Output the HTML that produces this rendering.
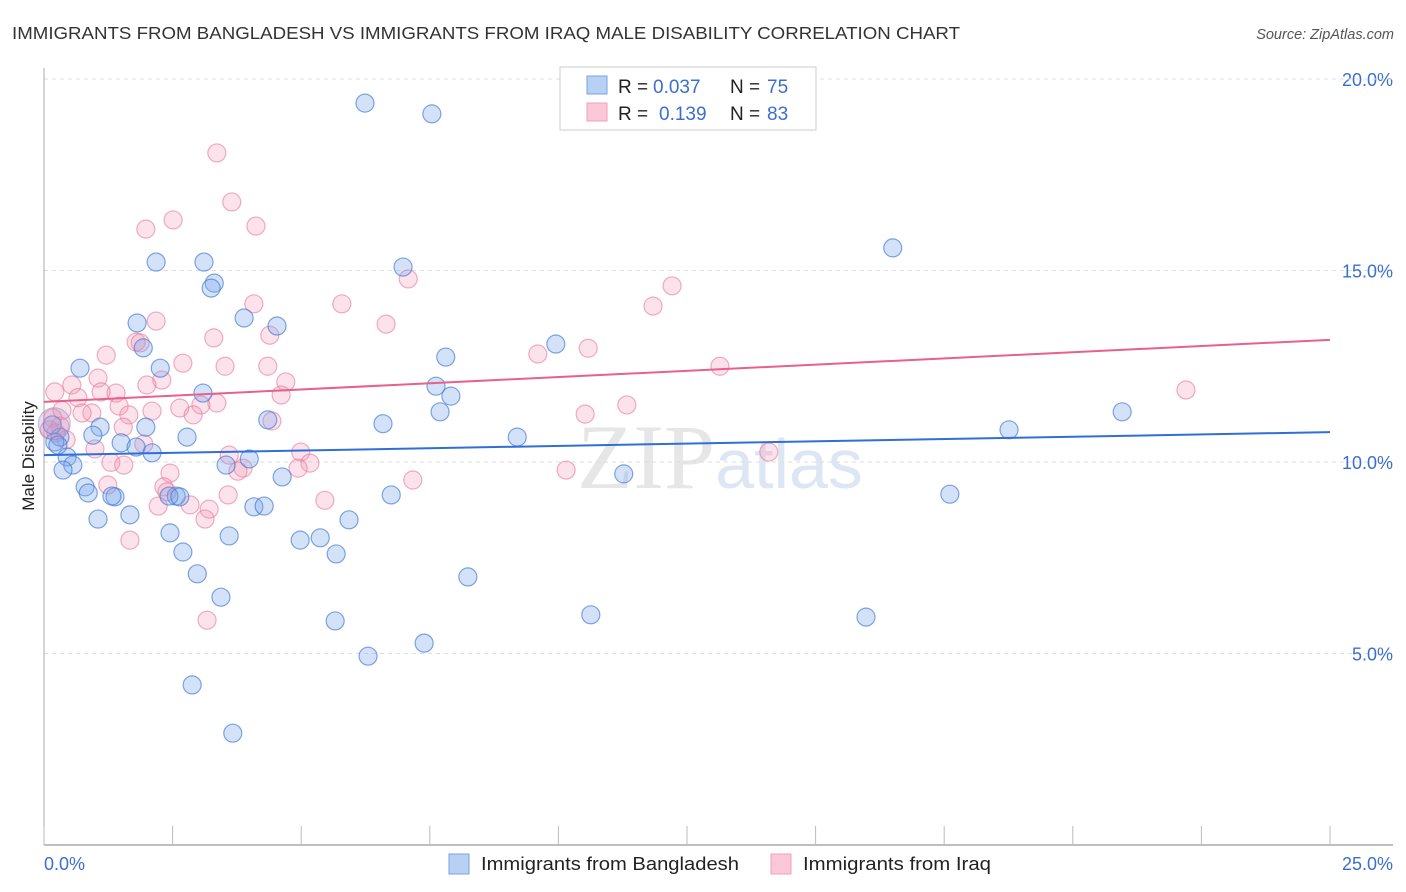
<!DOCTYPE html>
<html><head><meta charset="utf-8"><style>
body{margin:0;background:#fff;font-family:"Liberation Sans",sans-serif;}
svg{display:block}
</style></head><body>
<svg id="c" width="1406" height="892" xmlns="http://www.w3.org/2000/svg">
<text x="12" y="39" font-size="17.5" fill="#333" textLength="948" lengthAdjust="spacingAndGlyphs">IMMIGRANTS FROM BANGLADESH VS IMMIGRANTS FROM IRAQ MALE DISABILITY CORRELATION CHART</text>
<text x="1394" y="39" font-size="14.5" fill="#555" font-style="italic" text-anchor="end">Source: ZipAtlas.com</text>
<text x="720" y="488" font-size="92" fill="#e6e6e6" text-anchor="middle" font-family="Liberation Serif,serif">ZIP<tspan fill="#dde6f4" font-family="Liberation Sans,sans-serif" font-size="70">atlas</tspan></text>
<g id="grid"></g>
<g id="axes"></g>
<g id="pts"></g>
<g id="lines"></g>
<text transform="translate(34,456) rotate(-90)" font-size="17" fill="#222" text-anchor="middle">Male Disability</text>
<g>
<rect x="560" y="67" width="256" height="63" fill="#fff" stroke="#ccc"/>
<rect x="587" y="76" width="20" height="18" fill="#b8d0f4" stroke="#7aa2e0"/>
<rect x="587" y="103" width="20" height="18" fill="#fcc8d8" stroke="#eea0b8"/>
<text y="93" font-size="19" fill="#222"><tspan x="618">R =</tspan><tspan x="653" fill="#3a6fd0">0.037</tspan><tspan x="730">N =</tspan><tspan x="767" fill="#3a6fd0">75</tspan></text>
<text y="120" font-size="19" fill="#222"><tspan x="618">R =</tspan><tspan x="659" fill="#3a6fd0">0.139</tspan><tspan x="730">N =</tspan><tspan x="767" fill="#3a6fd0">83</tspan></text>
</g>
<g>
<rect x="449" y="854" width="20" height="20" fill="#b8d0f4" stroke="#7aa2e0"/>
<text x="481" y="870" font-size="18" fill="#222" textLength="258" lengthAdjust="spacingAndGlyphs">Immigrants from Bangladesh</text>
<rect x="771" y="854" width="20" height="20" fill="#fcc8d8" stroke="#eea0b8"/>
<text x="803" y="870" font-size="18" fill="#222" textLength="188" lengthAdjust="spacingAndGlyphs">Immigrants from Iraq</text>
</g>
</svg>
<script>
const yTicks=[5,10,15,20];
const yTickLabels=["5.0%","10.0%","15.0%","20.0%"];
const xTicks=[0,2.5,5,7.5,10,12.5,15,17.5,20,22.5,25];
const xTickLabels=["0.0%","25.0%"];
const blueLine=[10.18,10.78];
const pinkLine=[11.57,13.19];
const blueX=[6.24,7.54,16.5,2.18,3.11,6.98,3.31,3.25,3.89,1.81,4.53,1.93,9.95,7.81,0.70,2.26,7.62,7.91,3.09,7.70,20.96,4.35,6.59,18.76,1.98,1.09,0.95,2.78,9.20,0.31,0.21,1.50,1.79,2.10,0.45,0.56,3.99,3.54,0.37,4.63,11.27,0.80,0.86,1.38,1.32,2.57,2.43,2.64,6.75,17.61,4.08,4.28,1.67,1.05,5.93,2.45,3.60,4.98,5.37,2.70,5.68,8.24,2.98,3.44,10.63,15.98,5.66,7.39,6.30,2.88,3.67,0.16,0.27];
const blueY=[19.37,19.09,15.59,15.22,15.22,15.09,14.67,14.54,13.76,13.63,13.55,12.98,13.08,12.74,12.45,12.45,11.98,11.72,11.80,11.31,11.31,11.10,11.00,10.84,10.91,10.91,10.70,10.65,10.65,10.65,10.52,10.50,10.39,10.24,10.13,9.92,10.08,9.92,9.79,9.61,9.69,9.35,9.19,9.09,9.11,9.11,9.11,9.09,9.14,9.16,8.83,8.85,8.62,8.51,8.49,8.15,8.07,7.96,8.02,7.65,7.60,7.00,7.08,6.47,6.01,5.95,5.85,5.27,4.93,4.18,2.92,10.97,10.44];
const pinkX=[3.36,3.65,2.51,1.98,4.12,7.08,12.21,11.84,4.08,5.79,2.18,6.65,3.30,4.39,1.79,1.87,10.58,1.21,9.60,2.70,3.52,4.35,13.14,2.29,1.05,4.70,0.54,2.00,0.21,22.20,1.40,1.11,0.66,4.61,3.36,3.05,1.46,2.64,2.10,11.33,0.93,0.74,2.90,1.65,10.52,4.43,0.17,0.31,1.54,0.10,0.43,0.99,1.94,4.99,3.60,14.09,3.87,1.30,1.55,5.17,4.94,3.77,10.15,2.45,7.17,1.24,2.33,2.39,3.58,5.46,2.22,2.84,3.21,3.13,1.67,3.17,0.35,0.23];
const pinkY=[18.07,16.79,16.32,16.08,16.16,14.78,14.60,14.07,14.13,14.13,13.68,13.60,13.24,13.31,13.13,13.11,12.97,12.79,12.82,12.58,12.50,12.50,12.50,12.14,12.19,12.09,12.01,12.01,11.83,11.88,11.80,11.83,11.68,11.75,11.54,11.49,11.46,11.41,11.33,11.49,11.28,11.28,11.23,11.23,11.25,11.07,11.15,10.94,10.91,10.84,10.58,10.34,10.47,10.26,10.18,10.26,9.84,9.99,9.92,9.97,9.84,9.76,9.79,9.71,9.53,9.40,9.35,9.22,9.14,9.00,8.85,8.88,8.77,8.51,7.96,5.87,11.35,10.76];

const NS="http://www.w3.org/2000/svg";
const X0=44,X1=1330,Y0=845,PY=38.3;
const xs=v=>X0+(X1-X0)*v/25;
const ys=v=>Y0-v*PY;
function mk(tag,attrs,parent,txt){const e=document.createElementNS(NS,tag);for(const k in attrs)e.setAttribute(k,attrs[k]);if(txt!==undefined)e.textContent=txt;document.getElementById(parent).appendChild(e);return e;}
yTicks.forEach((t,i)=>{
  const l=mk('line',{x1:44,x2:1393,y1:ys(t),y2:ys(t),stroke:'#ddd','stroke-dasharray':'4,4'},'grid');
  
  
  const tx=mk('text',{x:1393,y:ys(t)+7,'font-size':18,fill:'#3a6fd0','text-anchor':'end'},'grid',yTickLabels[i]);
  
  
});
const topGrid=mk('line',{x1:44,x2:1393,y1:79,y2:79,stroke:'#ddd','stroke-dasharray':'4,4'},'grid');


const ax=mk('line',{x1:44,x2:1393,y1:Y0,y2:Y0,stroke:'#aaa','stroke-width':1.5},'axes');


const ay=mk('line',{x1:44,x2:44,y1:68,y2:Y0,stroke:'#aaa','stroke-width':1},'axes');


xTicks.forEach(t=>{
  const l=mk('line',{x1:xs(t),x2:xs(t),y1:826,y2:Y0,stroke:'#bbb'},'axes');
  
  
});
const xl0=mk('text',{x:44,y:870,'font-size':18,fill:'#3a6fd0'},'axes',xTickLabels[0]);


const xl1=mk('text',{x:1393,y:870,'font-size':18,fill:'#3a6fd0','text-anchor':'end'},'axes',xTickLabels[1]);


pinkX.forEach((v,i)=>{
  const c=mk('circle',{cx:xs(v),cy:ys(pinkY[i]),r:9,fill:'rgba(244,150,180,0.28)',stroke:'rgba(232,120,155,0.6)','stroke-width':1.2},'pts');
  
  
});
blueX.forEach((v,i)=>{
  const c=mk('circle',{cx:xs(v),cy:ys(blueY[i]),r:9,fill:'rgba(120,165,235,0.32)',stroke:'rgba(60,120,210,0.65)','stroke-width':1.2},'pts');
  
  
});
const big=mk('circle',{cx:xs(0.2),cy:ys(11),r:16,fill:'rgba(200,150,200,0.35)',stroke:'rgba(120,140,210,0.5)'},'pts');


const bl=mk('line',{x1:xs(0),x2:xs(25),y1:ys(blueLine[0]),y2:ys(blueLine[1]),stroke:'#2f6fd6','stroke-width':2},'lines');


const pl=mk('line',{x1:xs(0),x2:xs(25),y1:ys(pinkLine[0]),y2:ys(pinkLine[1]),stroke:'#e8608e','stroke-width':2},'lines');


</script>
</body></html>
